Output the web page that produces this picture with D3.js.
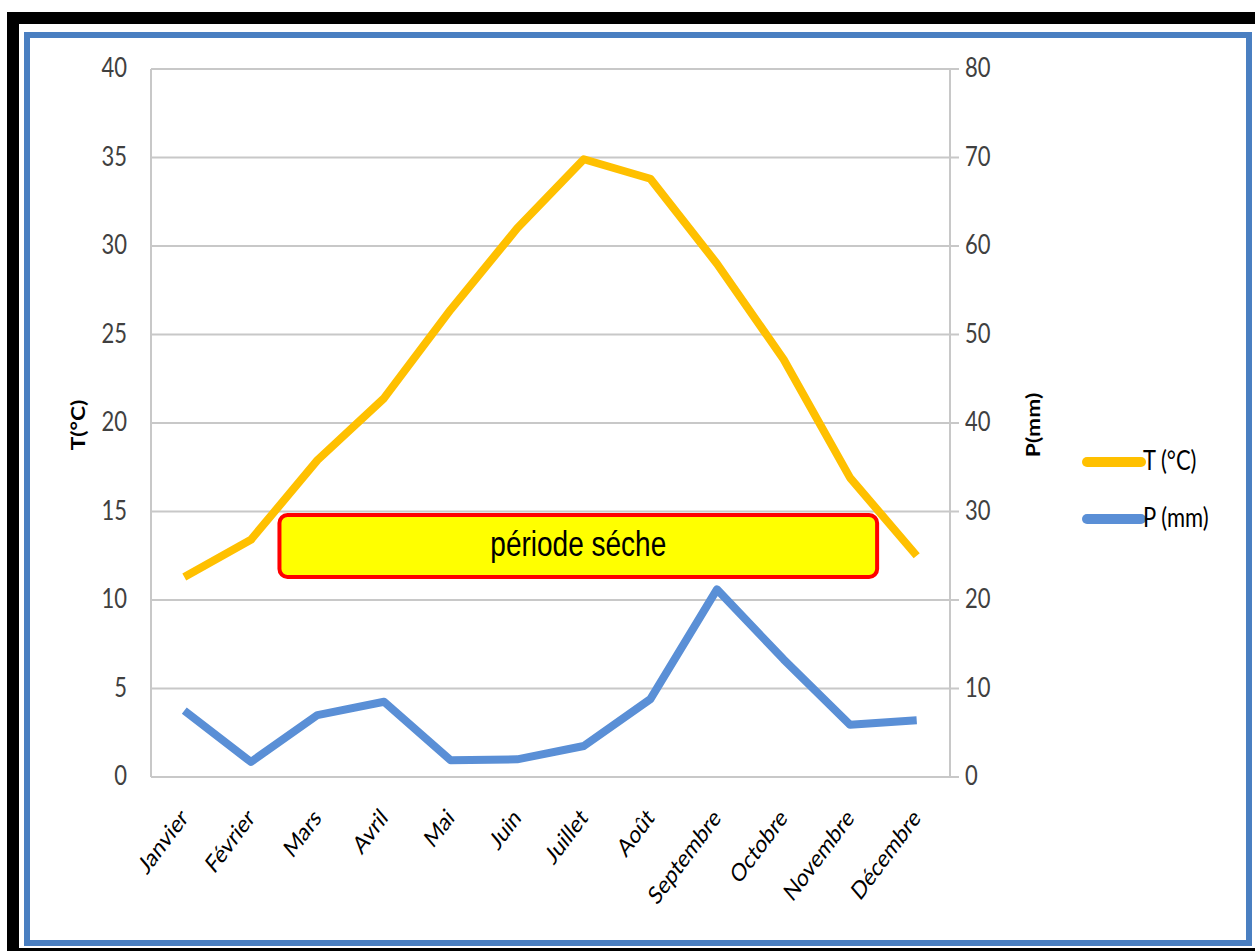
<!DOCTYPE html>
<html>
<head>
<meta charset="utf-8">
<script src="https://cdn.jsdelivr.net/npm/d3@7"></script>
<style>
  html, body { margin: 0; padding: 0; background: #fff; }
  svg { display: block; }
</style>
</head>
<body>
<svg id="chart" width="1255" height="951"></svg>
<script>
// Monthly climate data
const months = ["Janvier", "Février", "Mars", "Avril", "Mai", "Juin", "Juillet", "Août", "Septembre", "Octobre", "Novembre", "Décembre"];
const temperature = [11.3, 13.4, 17.9, 21.4, 26.4, 31.0, 34.9, 33.8, 29.0, 23.6, 16.9, 12.5];
const precipitation = [7.5, 1.7, 7.0, 8.5, 1.9, 2.0, 3.5, 8.8, 21.2, 13.3, 5.9, 6.4];
const tempTicks = [0, 5, 10, 15, 20, 25, 30, 35, 40];
const precTicks = [0, 10, 20, 30, 40, 50, 60, 70, 80];
// Dry period band, expressed in temperature units / month names
const dryStart = "Mars", dryEnd = "Novembre";
const dryTop = 14.8, dryBottom = 11.3;

const svg = d3.select("#chart");
const W = 1255, H = 951;
const stretch = 1.2; // tall, narrow lettering

// Outer black frame and blue chart border
svg.append("rect").attr("x", 7).attr("y", 12).attr("width", W - 7).attr("height", H - 12).attr("fill", "#000");
svg.append("rect").attr("x", 19).attr("y", 24).attr("width", W - 19).attr("height", 924).attr("fill", "#fff");
svg.append("rect").attr("x", 27).attr("y", 35).attr("width", 1222).attr("height", 908)
  .attr("fill", "#fff").attr("stroke", "#4a7fc1").attr("stroke-width", 6);

const plot = { left: 151, right: 950, top: 69, bottom: 777 };

const x = d3.scaleBand().domain(months).range([plot.left, plot.right]).padding(0);
const cx = d => x(d) + x.bandwidth() / 2;
const yT = d3.scaleLinear().domain([0, 40]).range([plot.bottom, plot.top]);
const yP = d3.scaleLinear().domain([0, 80]).range([plot.bottom, plot.top]);

const font = "Lato, 'Open Sans', sans-serif";
const gridColor = "#c8c8c8";

// Horizontal gridlines (extend into right axis ticks)
svg.append("g").selectAll("line").data(tempTicks).join("line")
  .attr("x1", plot.left).attr("x2", plot.right + 9)
  .attr("y1", d => yT(d)).attr("y2", d => yT(d))
  .attr("stroke", gridColor).attr("stroke-width", 2);

// Vertical axis lines
svg.append("line").attr("x1", plot.left).attr("x2", plot.left)
  .attr("y1", plot.top).attr("y2", plot.bottom).attr("stroke", gridColor).attr("stroke-width", 2);
svg.append("line").attr("x1", plot.right).attr("x2", plot.right)
  .attr("y1", plot.top).attr("y2", plot.bottom).attr("stroke", gridColor).attr("stroke-width", 2);

// Left axis tick labels
const leftAxis = d3.axisLeft(yT).tickValues(tempTicks).tickSize(0).tickPadding(24);
const gl = svg.append("g").attr("transform", `translate(${plot.left},0)`).call(leftAxis);
gl.select(".domain").remove();
gl.selectAll("text").attr("font-family", font).attr("font-size", 22).attr("fill", "#404040")
  .attr("dy", "0.3em").attr("transform", `scale(1,${stretch})`);

// Right axis tick labels
const rightAxis = d3.axisRight(yP).tickValues(precTicks).tickSize(0).tickPadding(15);
const gr = svg.append("g").attr("transform", `translate(${plot.right},0)`).call(rightAxis);
gr.select(".domain").remove();
gr.selectAll("text").attr("font-family", font).attr("font-size", 22).attr("fill", "#404040")
  .attr("dy", "0.3em").attr("transform", `scale(1,${stretch})`);

// Axis titles
svg.append("text").attr("transform", `translate(85,425) scale(1,${stretch}) rotate(-90)`)
  .attr("text-anchor", "middle").attr("font-family", font).attr("font-weight", "bold")
  .attr("font-size", 19).attr("fill", "#000").text("T(°C)");
svg.append("text").attr("transform", `translate(1040,425) scale(1,${stretch}) rotate(-90)`)
  .attr("text-anchor", "middle").attr("font-family", font).attr("font-weight", "bold")
  .attr("font-size", 19).attr("fill", "#000").text("P(mm)");

// Month labels, slanted
const bottomAxis = d3.axisBottom(x).tickSize(0).tickPadding(0);
const gb = svg.append("g").attr("transform", `translate(0,${plot.bottom})`).call(bottomAxis);
gb.select(".domain").remove();
gb.selectAll("text")
  .attr("font-family", font).attr("font-size", 20).attr("fill", "#000")
  .attr("text-anchor", "end").attr("dy", null).attr("y", 0)
  .attr("transform", "translate(5,42) scale(1,1.25) rotate(-47)");

// Series lines
const lineT = d3.line().x((d, i) => cx(months[i])).y(d => yT(d));
const lineP = d3.line().x((d, i) => cx(months[i])).y(d => yP(d));

svg.append("path").datum(temperature).attr("d", lineT)
  .attr("fill", "none").attr("stroke", "#ffc000").attr("stroke-width", 8).attr("stroke-linejoin", "round");
svg.append("path").datum(precipitation).attr("d", lineP)
  .attr("fill", "none").attr("stroke", "#5a8fd6").attr("stroke-width", 8).attr("stroke-linejoin", "round");

// Dry period box
const bx0 = cx(dryStart) - 38, bx1 = cx(dryEnd) + 27;
const by0 = yT(dryTop), by1 = yT(dryBottom);
svg.append("rect")
  .attr("x", bx0).attr("y", by0)
  .attr("width", bx1 - bx0).attr("height", by1 - by0)
  .attr("rx", 8).attr("fill", "#ffff00").attr("stroke", "#ff0000").attr("stroke-width", 4);
svg.append("text")
  .attr("transform", `translate(${(bx0 + bx1) / 2},${(by0 + by1) / 2 + 10}) scale(1,1.25)`)
  .attr("text-anchor", "middle").attr("font-family", "'Liberation Sans', Arial, sans-serif")
  .attr("font-size", 28).attr("fill", "#000").text("période séche");

// Legend
const legend = [
  { label: "T (°C)", color: "#ffc000" },
  { label: "P (mm)", color: "#5a8fd6" }
];
const lg = svg.append("g").selectAll("g").data(legend).join("g")
  .attr("transform", (d, i) => `translate(1087,${462 + i * 57})`);
lg.append("line").attr("x1", 0).attr("x2", 54).attr("y1", 0).attr("y2", 0)
  .attr("stroke", d => d.color).attr("stroke-width", 10).attr("stroke-linecap", "round");
lg.append("text").attr("transform", `translate(56,8) scale(1,${stretch})`)
  .attr("font-family", font).attr("font-size", 22)
  .attr("fill", "#000").text(d => d.label);
</script>
</body>
</html>
